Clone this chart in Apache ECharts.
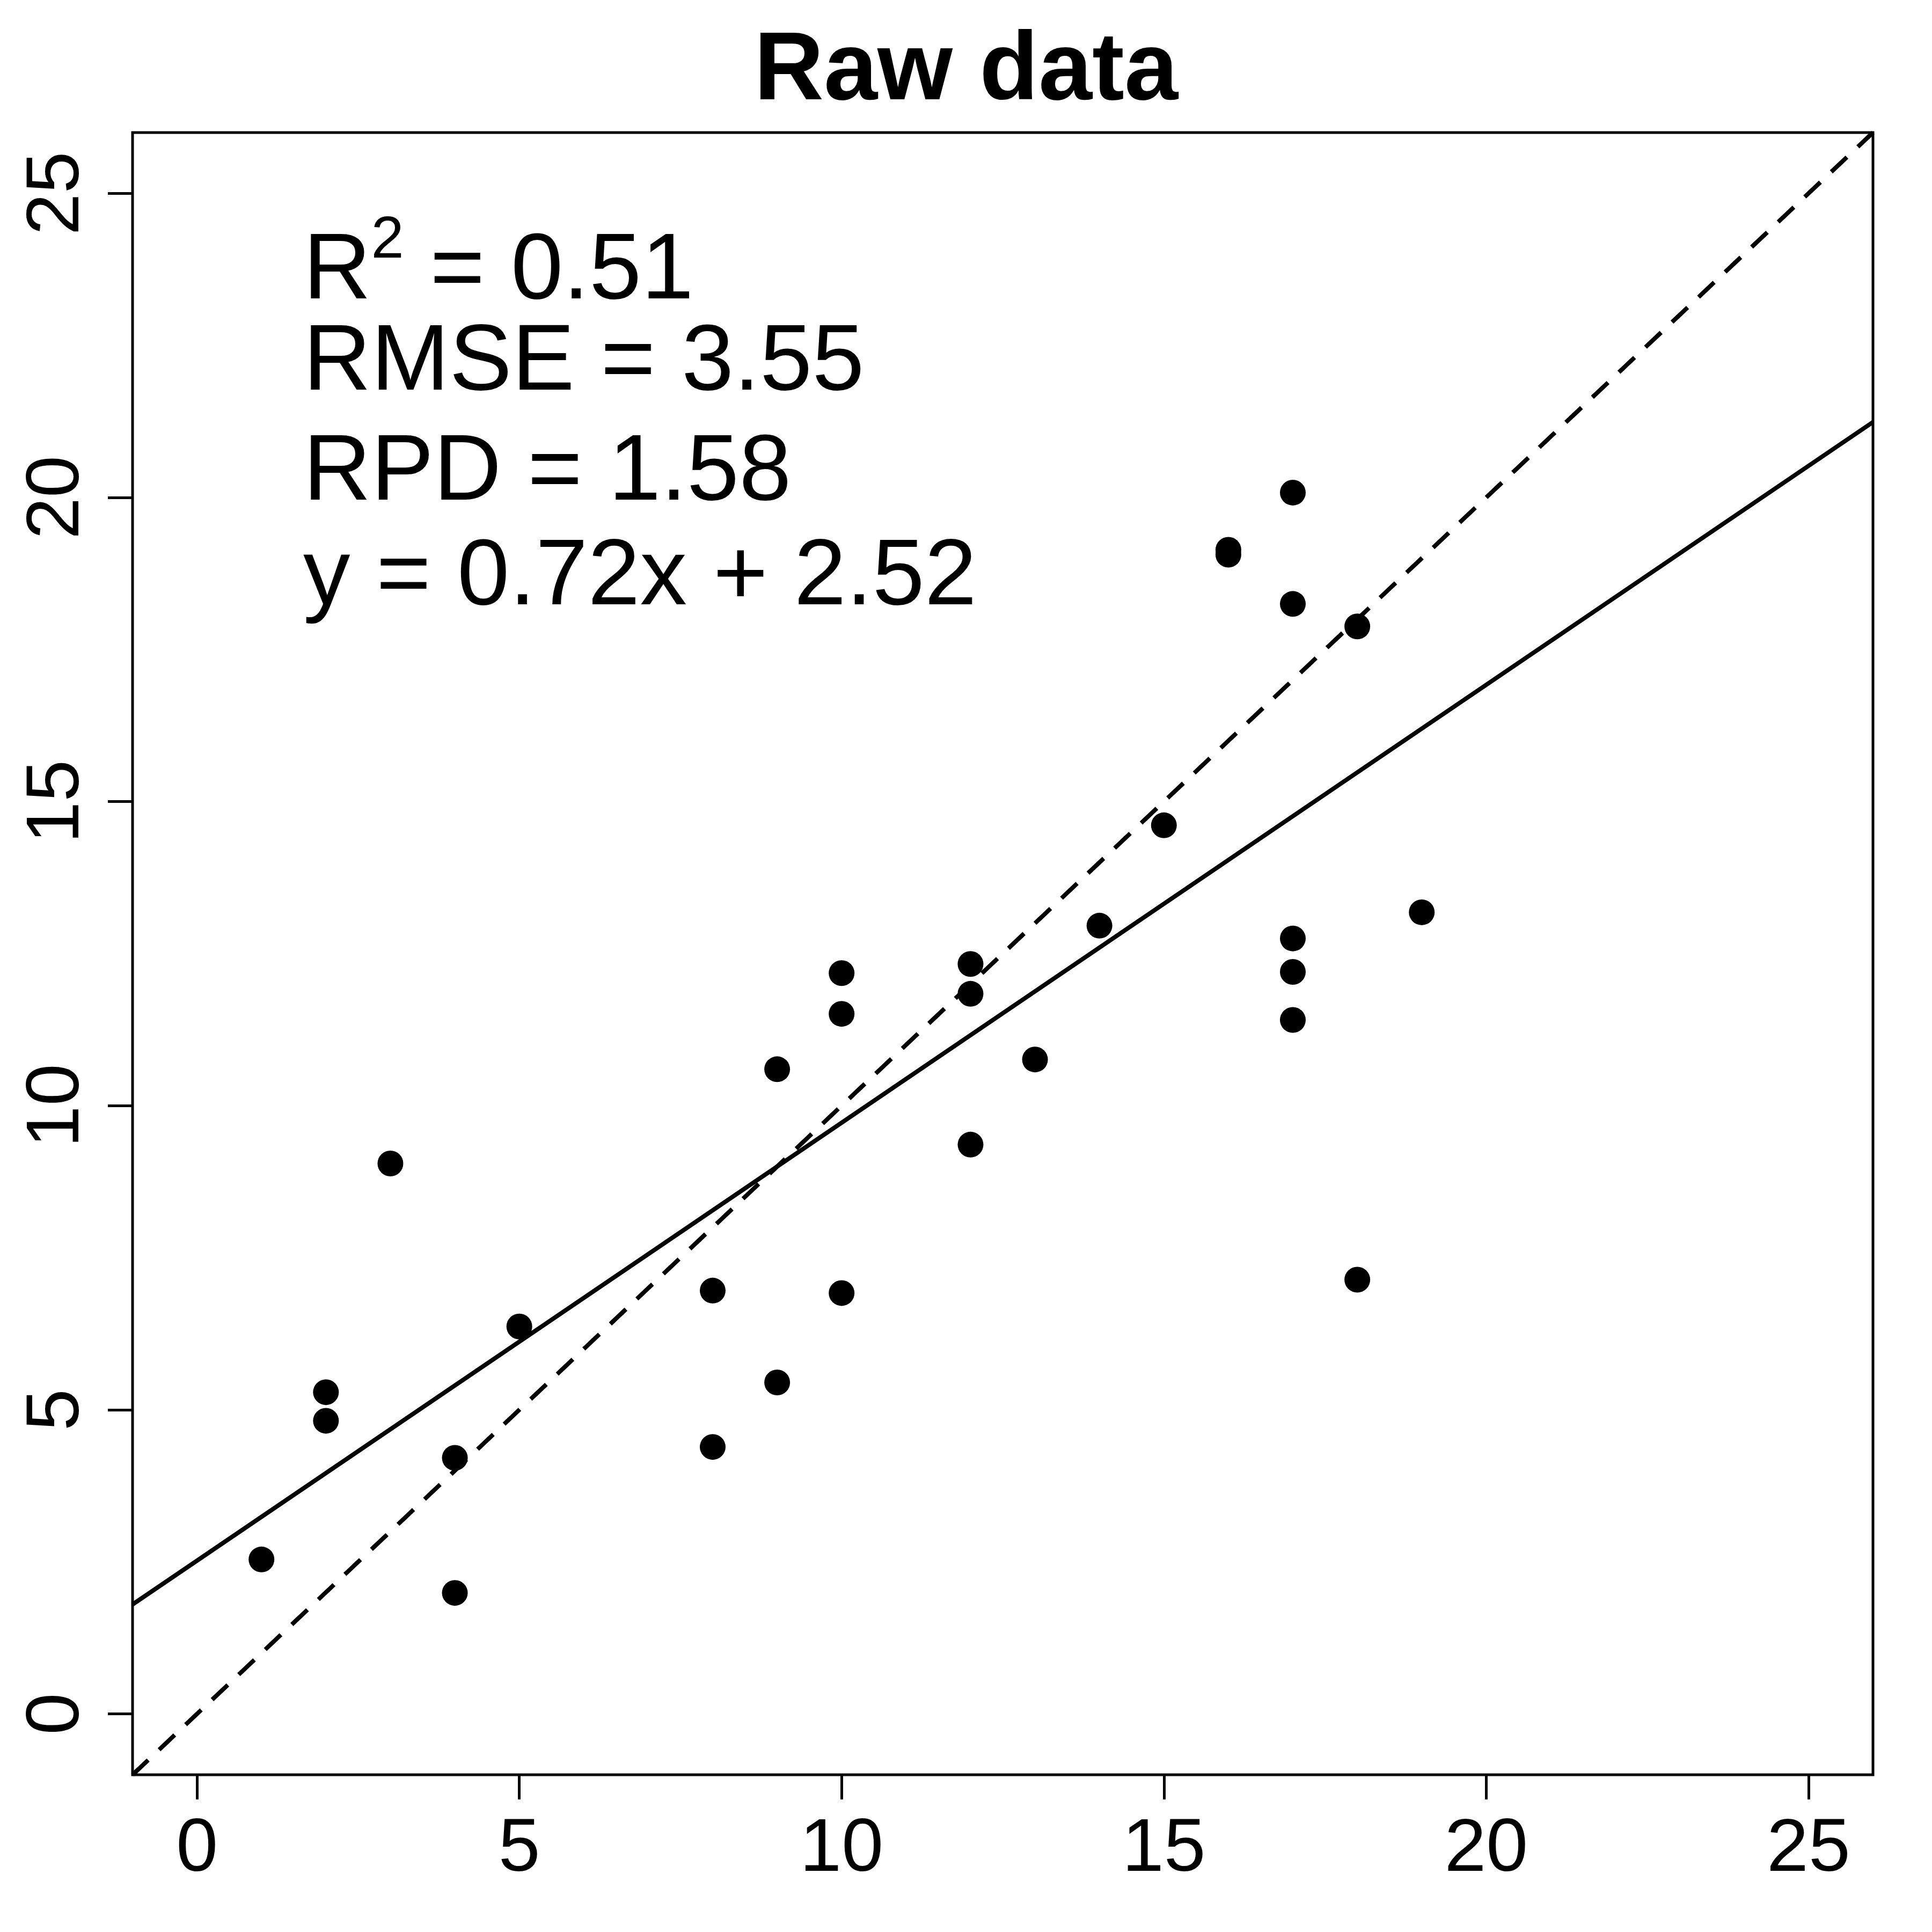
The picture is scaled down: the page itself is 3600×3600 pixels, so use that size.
<!DOCTYPE html>
<html>
<head>
<meta charset="UTF-8">
<script src="https://cdn.jsdelivr.net/npm/echarts@6/dist/echarts.min.js"></script>
<style>body{margin:0}</style>
</head>
<body>
<div id="chartmain" style="width:3600px;height:3600px"></div>
<script>
    // observed / predicted pairs
    var xs = [1, 2, 2, 3, 4, 4, 5, 8, 8, 9, 9, 10, 10, 10, 12, 12, 12, 13, 14, 15, 16, 16, 17, 17, 17, 17, 17, 18, 18, 19];
    var ys = [2.54, 5.29, 4.82, 9.05, 4.21, 1.99, 6.37, 6.96, 4.39, 10.6, 5.45, 12.18, 11.51, 6.92, 12.33, 11.84, 9.36, 10.76, 12.96, 14.61, 19.14, 19.06, 20.08, 18.25, 12.75, 12.2, 11.41, 17.88, 7.14, 13.18];
    var fitEnds = [-1, 26];
    var slope = 0.72, intercept = 2.52;
    var stats = ['RMSE = 3.55', 'RPD = 1.58', 'y = 0.72x + 2.52'];

    var pts = [];
    for (var i = 0; i < xs.length; i++) pts.push([xs[i], ys[i]]);
    var fit = fitEnds.map(function (x) { return [x, slope * x + intercept]; });
    var oneToOne = fitEnds.map(function (x) { return [x, x]; });

    var font = 'Liberation Sans, Arial, sans-serif';
    function axis(rot) {
        return {
            type: 'value', min: -1, max: 26,
            axisLine: {show: false, onZero: false},
            splitLine: {show: false},
            axisTick: {show: true, inside: false, length: 46, lineStyle: {color: '#000', width: 5},
                customValues: [0, 5, 10, 15, 20, 25]},
            axisLabel: {color: '#000', fontSize: 140, fontFamily: font, margin: 70, rotate: rot,
                customValues: [0, 5, 10, 15, 20, 25], showMinLabel: true, showMaxLabel: true}
        };
    }
    var option = {
        backgroundColor: '#fff',
        animation: false,
        title: {text: 'Raw data', left: 'center', top: 40,
            textStyle: {fontSize: 180, fontWeight: 'bold', color: '#000', fontFamily: font}},
        grid: {left: 247, right: 110, top: 247, bottom: 293, show: true,
            borderColor: '#000', borderWidth: 5, backgroundColor: 'transparent'},
        xAxis: axis(0),
        yAxis: axis(90),
        graphic: [
            {type: 'text', left: 565, top: 395, style: {
                text: '{a|R}{s|2}{a| = 0.51}', fill: '#000',
                rich: {a: {fontSize: 175, fontFamily: font, verticalAlign: 'bottom'},
                       s: {fontSize: 110, fontFamily: font, verticalAlign: 'top', padding: [0, 0, 90, 0]}}}},
            {type: 'text', left: 565, top: 590, style: {text: stats[0], fontSize: 175, fontFamily: font, fill: '#000'}},
            {type: 'text', left: 565, top: 795, style: {text: stats[1], fontSize: 175, fontFamily: font, fill: '#000'}},
            {type: 'text', left: 565, top: 990, style: {text: stats[2], fontSize: 175, fontFamily: font, fill: '#000'}}
        ],
        series: [
            {type: 'line', data: oneToOne, showSymbol: false, clip: true,
                lineStyle: {color: '#000', width: 8, type: [40, 28]}},
            {type: 'line', data: fit, showSymbol: false, clip: true,
                lineStyle: {color: '#000', width: 8}},
            {type: 'scatter', data: pts, symbolSize: 48, itemStyle: {color: '#000', opacity: 1}}
        ]
    };
    var myChart = echarts.init(document.getElementById('chartmain'));
    myChart.setOption(option);
</script>
</body>
</html>
